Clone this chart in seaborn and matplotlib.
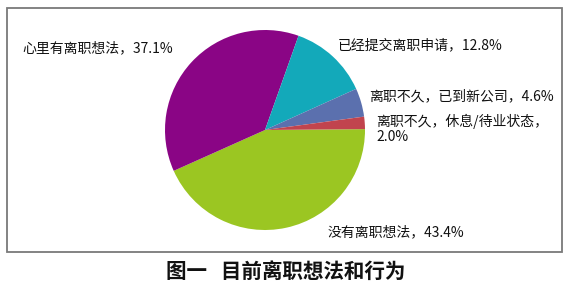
import matplotlib
matplotlib.use("Agg")
import matplotlib.pyplot as plt
import seaborn as sns
from matplotlib.patches import Rectangle

categories = ["没有离职想法", "心里有离职想法", "已经提交离职申请",
              "离职不久，已到新公司", "离职不久，休息/待业状态"]
values = [43.4, 37.1, 12.8, 4.6, 2.0]
label_texts = ["没有离职想法，43.4%", "心里有离职想法，37.1%", "已经提交离职申请，12.8%",
               "离职不久，已到新公司，4.6%", "离职不久，休息/待业状态，\n2.0%"]
title = "图一   目前离职想法和行为"

sns.set_theme(style="white")
plt.rcParams['font.family'] = ['Noto Sans CJK SC', 'DejaVu Sans']

colors = sns.color_palette(["#9bc622", "#8a0585", "#13a9ba", "#5b70ae", "#c1444e"])

W, H = 573, 289
fig = plt.figure(figsize=(W / 100, H / 100), dpi=100)
ax = fig.add_axes([0, 0, 1, 1])

ax.pie(values, colors=colors, startangle=0.5, counterclock=False,
       center=(265, H - 130), radius=100, frame=True,
       wedgeprops=dict(linewidth=0))
ax.set_xlim(0, W)
ax.set_ylim(0, H)
ax.set_aspect('equal')
ax.axis('off')

# frame box
ax.add_patch(Rectangle((6.5, H - 252), 555, 244, fill=False,
                       edgecolor="#7a7a7a", linewidth=1.3))

fs = 10
pos = [(22, 48), (338, 45), (369, 96), (376, 129), (328, 232)]
pos = [(328, 232), (22, 48), (338, 45), (369, 96), (376, 129)]
for (x, y), t in zip(pos, label_texts):
    ax.text(x, H - y, t, fontsize=fs, ha='left', va='center',
            color='#111111', linespacing=1.15, fontweight='medium')

ax.text(286, H - 271, title, fontsize=14.8, ha='center', va='center',
        color='#111111', fontweight='bold')

fig.savefig("out.png", dpi=100)
